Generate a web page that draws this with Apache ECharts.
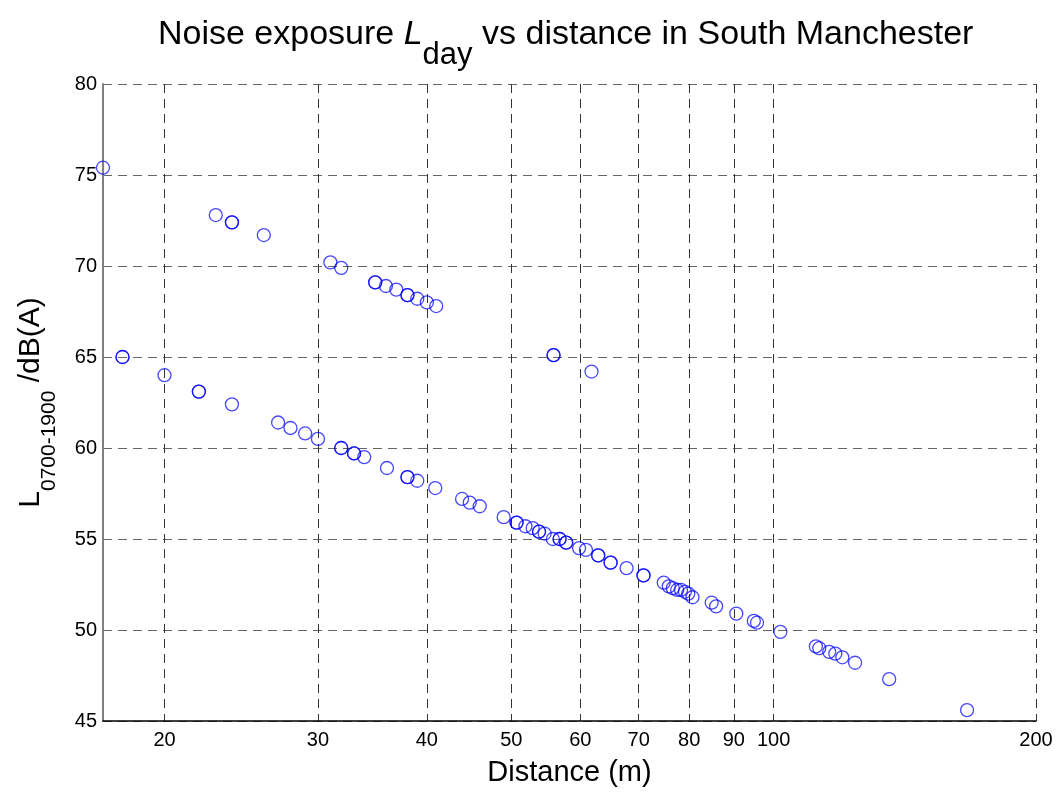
<!DOCTYPE html>
<html>
<head>
<meta charset="utf-8">
<script src="https://cdn.jsdelivr.net/npm/echarts@6/dist/echarts.min.js"></script>
<style>
  html, body { margin: 0; padding: 0; background: #fff; }
  #chart { width: 1059px; height: 795px; }
</style>
</head>
<body>
<div id="chart"></div>
<script>
// Distance (m) of each measurement point
const distance = [
  17.0, 22.9, 23.9, 23.9, 26.0, 31.0, 31.9, 34.9, 34.9, 35.9, 36.9, 38.0, 38.0, 39.0, 40.0, 41.0,
  55.9, 55.9, 61.8,
  17.9, 17.9, 20.0, 21.9, 21.9, 23.9, 27.0, 27.9, 29.0, 30.0, 31.9, 31.9, 33.0, 33.0, 33.9,
  36.0, 38.0, 38.0, 39.0, 40.9, 43.9, 44.8, 46.0, 49.0, 50.7, 50.7, 51.9, 52.9, 53.8, 53.8,
  54.6, 55.8, 56.8, 56.8, 57.8, 57.8, 59.8, 60.9, 62.9, 62.9, 65.0, 65.0, 67.8, 70.9, 70.9,
  74.8, 75.8, 76.6, 77.5, 78.3, 79.1, 79.8, 80.7, 84.9, 85.9, 90.6, 94.9, 95.7, 101.8,
  111.8, 112.8, 115.8, 117.7, 119.9, 124.0, 135.7, 166.7
];
// L 0700-1900 level, dB(A)
const level = [
  75.4, 72.8, 72.4, 72.4, 71.7, 70.2, 69.9, 69.1, 69.1, 68.9, 68.7, 68.4, 68.4, 68.2, 68.0, 67.8,
  65.1, 65.1, 64.2,
  65.0, 65.0, 64.0, 63.1, 63.1, 62.4, 61.4, 61.1, 60.8, 60.5, 60.0, 60.0, 59.7, 59.7, 59.5,
  58.9, 58.4, 58.4, 58.2, 57.8, 57.2, 57.0, 56.8, 56.2, 55.9, 55.9, 55.7, 55.6, 55.4, 55.4,
  55.3, 55.0, 55.0, 55.0, 54.8, 54.8, 54.5, 54.4, 54.1, 54.1, 53.7, 53.7, 53.4, 53.0, 53.0,
  52.6, 52.4, 52.3, 52.2, 52.2, 52.1, 52.0, 51.8, 51.5, 51.3, 50.9, 50.5, 50.4, 49.9,
  49.1, 49.0, 48.8, 48.7, 48.5, 48.2, 47.3, 45.6
];
const xTicks = [20, 30, 40, 50, 60, 70, 80, 90, 100, 200];
const xRange = [17, 200];
const yRange = [45, 80];
const yStep = 5;

const points = distance.map((d, i) => [Math.log10(d), level[i]]);
const xTickPos = xTicks.map(v => Math.log10(v));

const chart = echarts.init(document.getElementById('chart'));
chart.setOption({
  animation: false,
  backgroundColor: '#ffffff',
  title: {
    left: 158,
    top: 18,
    padding: 0,
    text: '{n|Noise exposure }{i|L}{s|day}{n| vs distance in South Manchester}',
    textStyle: {
      fontWeight: 'normal',
      rich: {
        n: { fontFamily: 'Liberation Sans', fontWeight: 'normal', fontSize: 34, lineHeight: 34, color: '#000', verticalAlign: 'top' },
        i: { fontFamily: 'Liberation Sans', fontWeight: 'normal', fontStyle: 'italic', fontSize: 34, lineHeight: 34, color: '#000', verticalAlign: 'top' },
        s: { fontFamily: 'Liberation Sans', fontWeight: 'normal', fontSize: 31, lineHeight: 31, color: '#000', verticalAlign: 'top', padding: [22, 0, 0, 0] }
      }
    }
  },
  grid: { left: 103, right: 23, top: 84, bottom: 74, containLabel: false },
  xAxis: {
    type: 'value',
    min: Math.log10(xRange[0]),
    max: Math.log10(xRange[1]),
    name: 'Distance (m)',
    nameLocation: 'middle',
    nameGap: 37,
    nameTextStyle: { fontFamily: 'Liberation Sans', fontSize: 29, color: '#000' },
    axisLine: { show: true, onZero: false, lineStyle: { color: '#000', width: 1.5 } },
    axisTick: { show: false, customValues: xTickPos },
    axisLabel: {
      customValues: xTickPos,
      formatter: v => String(Math.round(Math.pow(10, v))),
      fontFamily: 'Liberation Sans', fontSize: 20, color: '#000', margin: 9
    },
    splitLine: { show: true, lineStyle: { color: '#333', type: [9, 6], width: 1 } }
  },
  yAxis: {
    type: 'value',
    min: yRange[0],
    max: yRange[1],
    interval: yStep,
    name: '{n|L}{s|0700-1900}{n| /dB(A)}',
    nameLocation: 'middle',
    nameGap: 57,
    nameTextStyle: {
      rich: {
        n: { fontFamily: 'Liberation Sans', fontSize: 30, lineHeight: 30, color: '#000', verticalAlign: 'top' },
        s: { fontFamily: 'Liberation Sans', fontSize: 21, lineHeight: 21, color: '#000', verticalAlign: 'top', padding: [23, 0, 0, 0] }
      }
    },
    axisLine: { show: true, onZero: false, lineStyle: { color: '#808080', width: 2 } },
    axisTick: { show: false },
    axisLabel: { fontFamily: 'Liberation Sans', fontSize: 20, color: '#000', margin: 6 },
    splitLine: { show: true, lineStyle: { color: '#666', type: [9, 6], width: 1 } }
  },
  series: [{
    type: 'scatter',
    data: points,
    symbol: 'circle',
    symbolSize: 13,
    itemStyle: { color: 'rgba(0,0,0,0)', borderColor: 'rgba(0,0,255,0.9)', borderWidth: 1.3 },
    z: 5
  }]
});
</script>
</body>
</html>
